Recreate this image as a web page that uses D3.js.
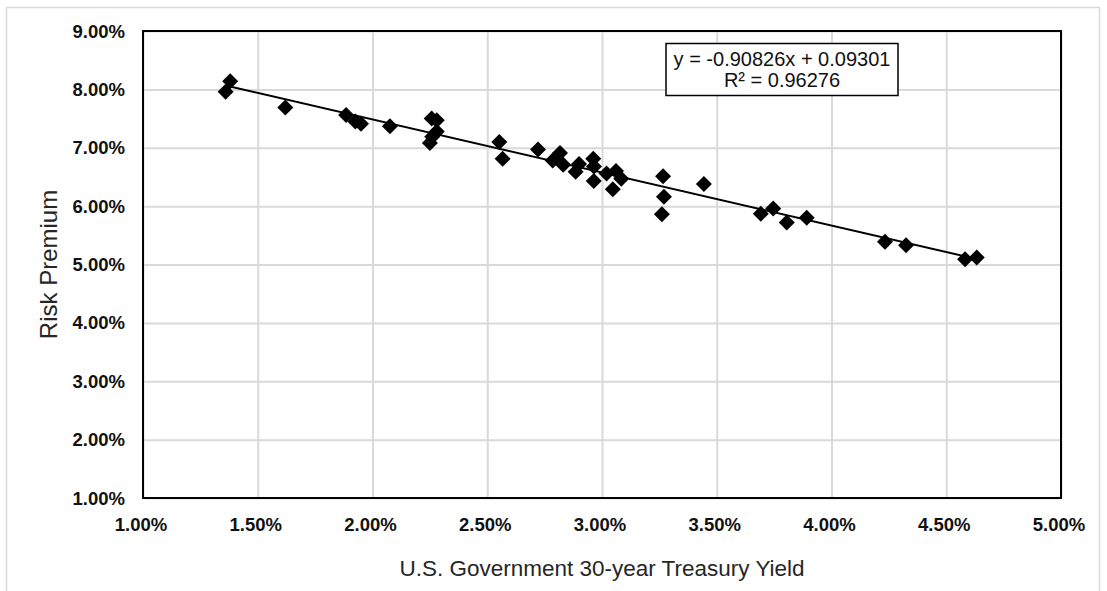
<!DOCTYPE html>
<html><head><meta charset="utf-8">
<script src="https://cdn.jsdelivr.net/npm/d3@7"></script>
<style>html,body{margin:0;padding:0;background:#fff;} svg{display:block;}</style>
</head><body>
<svg id="chart" width="1107" height="591"></svg>
<script>
// Data (percent values)
const treasuryYield = [1.36,1.38,1.62,1.885,1.925,1.95,2.076,2.258,2.28,2.28,2.26,2.25,2.5525,2.567,2.721,2.785,2.817,2.831,2.900,2.885,2.962,2.965,2.964,3.020,3.061,3.084,3.047,3.266,3.270,3.261,3.444,3.692,3.746,3.805,3.892,4.233,4.325,4.582,4.633];
const riskPremium   = [7.96,8.14,7.69,7.56,7.45,7.41,7.37,7.50,7.47,7.28,7.19,7.08,7.10,6.81,6.97,6.78,6.91,6.71,6.72,6.59,6.81,6.68,6.43,6.56,6.60,6.47,6.29,6.51,6.16,5.86,6.38,5.87,5.96,5.72,5.80,5.39,5.33,5.09,5.12];
const xTicks = [1.0,1.5,2.0,2.5,3.0,3.5,4.0,4.5,5.0];
const yTicks = [1,2,3,4,5,6,7,8,9];
const slope = -0.90826, intercept = 0.09301;
const eqLines = ["y = -0.90826x + 0.09301", "R² = 0.96276"];
const xTitle = "U.S. Government 30-year Treasury Yield";
const yTitle = "Risk Premium";

const svg = d3.select("#chart");
const L = 143, R = 1061, T = 31, B = 498;
const x = d3.scaleLinear().domain([1,5]).range([L,R]);
const y = d3.scaleLinear().domain([1,9]).range([B,T]);

// outer frame
svg.append("rect").attr("x",6.5).attr("y",7.5).attr("width",1093).attr("height",620)
  .attr("fill","none").attr("stroke","#d9d9d9").attr("stroke-width",1.5);

// gridlines
const gx = svg.append("g").attr("transform",`translate(0,${B})`)
  .call(d3.axisBottom(x).tickValues(xTicks).tickSize(-(B-T)).tickFormat(""));
const gy = svg.append("g").attr("transform",`translate(${L},0)`)
  .call(d3.axisLeft(y).tickValues(yTicks).tickSize(-(R-L)).tickFormat(""));
[gx,gy].forEach(g=>{ g.select(".domain").remove(); g.selectAll("line").attr("stroke","#d9d9d9").attr("stroke-width",2); });

// tick labels
const fmt = d => d.toFixed(2) + "%";
svg.append("g").selectAll("text").data(xTicks).join("text")
  .attr("x",d=>x(d)-2).attr("y",531).attr("text-anchor","middle")
  .attr("font-family","Liberation Sans, Arial, sans-serif").attr("font-weight","bold").attr("font-size",18.5)
  .attr("fill","#111").text(fmt);
svg.append("g").selectAll("text").data(yTicks).join("text")
  .attr("x",125).attr("y",d=>y(d)+6.5).attr("text-anchor","end")
  .attr("font-family","Liberation Sans, Arial, sans-serif").attr("font-weight","bold").attr("font-size",18.5)
  .attr("fill","#111").text(fmt);

// plot border
svg.append("rect").attr("x",L).attr("y",T).attr("width",R-L).attr("height",B-T)
  .attr("fill","none").attr("stroke","#000").attr("stroke-width",2);

// trendline
const xmin = d3.min(treasuryYield), xmax = d3.max(treasuryYield);
const f = v => (slope*(v/100) + intercept)*100;
svg.append("line").attr("x1",x(xmin)).attr("y1",y(f(xmin))).attr("x2",x(xmax)).attr("y2",y(f(xmax)))
  .attr("stroke","#000").attr("stroke-width",2);

// points
const pts = treasuryYield.map((v,i)=>({x:v,y:riskPremium[i]}));
const r = 8;
svg.append("g").selectAll("path").data(pts).join("path")
  .attr("d",d=>{const cx=x(d.x), cy=y(d.y); return `M${cx},${cy-r}L${cx+r},${cy}L${cx},${cy+r}L${cx-r},${cy}Z`;})
  .attr("fill","#000");

// equation box
svg.append("rect").attr("x",666).attr("y",43.5).attr("width",232).attr("height",52)
  .attr("fill","#fff").attr("stroke","#000").attr("stroke-width",1.5);
svg.append("g").selectAll("text").data(eqLines).join("text")
  .attr("x",782).attr("y",(d,i)=>66+i*21).attr("text-anchor","middle")
  .attr("font-family","Liberation Sans, Arial, sans-serif").attr("font-size",20)
  .attr("fill","#111").text(d=>d);

// axis titles
svg.append("text").attr("x",(L+R)/2).attr("y",576).attr("text-anchor","middle")
  .attr("font-family","Liberation Sans, Arial, sans-serif").attr("font-size",22.5)
  .attr("fill","#262626").text(xTitle);
svg.append("text").attr("transform",`translate(57,${(T+B)/2}) rotate(-90)`).attr("text-anchor","middle")
  .attr("font-family","Liberation Sans, Arial, sans-serif").attr("font-size",24)
  .attr("fill","#262626").text(yTitle);
</script>
</body></html>
